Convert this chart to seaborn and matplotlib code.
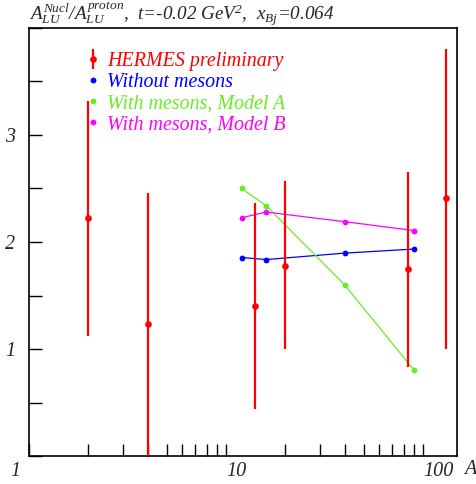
import numpy as np
import pandas as pd
import seaborn as sns
import matplotlib.pyplot as plt
from matplotlib.lines import Line2D
from matplotlib.ticker import FixedLocator, NullFormatter, MultipleLocator
import matplotlib.transforms as mtrans

sns.set_style("white")
plt.rcParams['font.family'] = ['Liberation Serif', 'DejaVu Serif']
plt.rcParams['font.style'] = 'italic'
plt.rcParams['mathtext.fontset'] = 'custom'
plt.rcParams['mathtext.rm'] = 'Liberation Serif:italic'
plt.rcParams['mathtext.it'] = 'Liberation Serif:italic'

# HERMES data (A, ratio, lower edge, upper edge of error bar)
hermes_A = [2, 4, 14, 20, 84, 131]
hermes_val = [2.22, 1.23, 1.40, 1.78, 1.75, 2.41]
hermes_lo = [1.12, 0.0, 0.44, 1.00, 0.83, 1.00]
hermes_hi = [3.32, 2.46, 2.36, 2.57, 2.65, 3.80]

# model curves
model_A = [12, 16, 40, 90]
no_mesons = [1.855, 1.836, 1.896, 1.934]
mesons_A = [2.50, 2.34, 1.60, 0.805]
mesons_B = [2.226, 2.28, 2.19, 2.107]

red = "#ff0000"
blue = "#0000ff"
green = "#66ee22"
magenta = "#ff00ff"

fig = plt.figure(figsize=(4.76, 4.84), dpi=100)
ax = fig.add_axes([29 / 476, 28 / 484, 428 / 476, 428 / 484])

models = pd.DataFrame({"A": model_A, "none": no_mesons, "modA": mesons_A, "modB": mesons_B})
for col, c in [("none", blue), ("modA", green), ("modB", magenta)]:
    sns.lineplot(data=models, x="A", y=col, color=c, marker="o", markersize=4.2,
                 markeredgewidth=0, linewidth=0.9, ax=ax)

yerr = [np.array(hermes_val) - np.array(hermes_lo), np.array(hermes_hi) - np.array(hermes_val)]
eb = ax.errorbar(hermes_A, hermes_val, yerr=yerr, fmt="o", color=red, markersize=4.8,
                 markeredgewidth=0, elinewidth=1.6, capsize=0, zorder=5)

ax.set_xscale("log")
ax.set_xlim(1, 149)
ax.set_ylim(0, 4)
ax.set_xlabel("")
ax.set_ylabel("")

# ticks
ax.xaxis.set_major_locator(FixedLocator([1, 10, 100]))
ax.xaxis.set_minor_locator(FixedLocator([2, 3, 4, 5, 6, 7, 8, 9, 20, 30, 40, 50, 60, 70, 80, 90]))
ax.xaxis.set_minor_formatter(NullFormatter())
ax.set_xticklabels(["1", "10", "100"])
ax.yaxis.set_major_locator(FixedLocator([1, 2, 3]))
ax.yaxis.set_minor_locator(MultipleLocator(0.5))
ax.set_yticklabels(["1", "2", "3"])
ax.tick_params(which="both", direction="in", length=9, width=1, labelsize=14.5,
               bottom=True, left=True, top=False, right=False, color="black")
ax.tick_params(axis="x", pad=4)
ax.tick_params(axis="y", pad=10)
for lab in ax.get_xticklabels():
    lab.set_ha("left")
xl = ax.get_xticklabels()
xl[0].set_transform(xl[0].get_transform() + mtrans.ScaledTranslation(-0.19, 0, fig.dpi_scale_trans))

for s in ax.spines.values():
    s.set_color("black")
    s.set_linewidth(1.2)

# legend
handles = [eb,
           Line2D([], [], color=blue, marker="o", linestyle="none", markersize=4.2, markeredgewidth=0),
           Line2D([], [], color=green, marker="o", linestyle="none", markersize=4.2, markeredgewidth=0),
           Line2D([], [], color=magenta, marker="o", linestyle="none", markersize=4.2, markeredgewidth=0)]
labels = ["HERMES preliminary", "Without mesons", "With mesons, Model A", "With mesons, Model B"]
leg = ax.legend(handles, labels, loc="upper left", bbox_to_anchor=(0.12, 0.962), frameon=False,
                fontsize=14.4, handlelength=0.5, handletextpad=0.45, labelspacing=0.1,
                borderaxespad=0)
for t, c in zip(leg.get_texts(), [red, blue, green, magenta]):
    t.set_color(c)

fig.text(29 / 476, 1 - 20 / 484,
         r"$A^{Nucl}_{LU}/A^{proton}_{LU}$,  t=-0.02 GeV$^{2}$,  x$_{Bj}$=0.064",
         fontsize=13.8, ha="left", va="baseline")
fig.text(464 / 476, 1 - 474 / 484, "A", fontsize=14.5, ha="left", va="baseline")

fig.savefig("out.png", dpi=100)
